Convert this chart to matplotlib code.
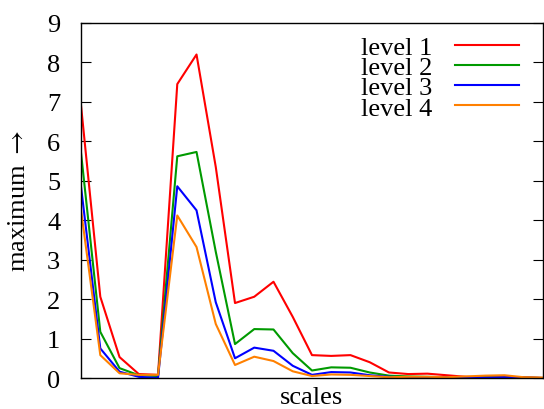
import matplotlib
matplotlib.use("Agg")
import matplotlib.pyplot as plt
import numpy as np

plt.rcParams['font.family'] = ['Liberation Serif', 'DejaVu Serif']
plt.rcParams['mathtext.fontset'] = 'stix'

# maximum value per scale index
scales = np.arange(25)
level1 = [6.9, 2.06, 0.53, 0.1, 0.08, 7.45, 8.2, 5.35, 1.9, 2.06, 2.44, 1.55, 0.58, 0.56, 0.58,
          0.4, 0.14, 0.1, 0.11, 0.07, 0.03, 0.02, 0.03, 0.02, 0.0]
level2 = [5.7, 1.17, 0.25, 0.07, 0.05, 5.62, 5.73, 3.2, 0.86, 1.24, 1.23, 0.63, 0.19, 0.27, 0.26,
          0.14, 0.06, 0.04, 0.03, 0.02, 0.01, 0.02, 0.01, 0.01, 0.0]
level3 = [4.84, 0.75, 0.16, 0.03, 0.0, 4.86, 4.25, 1.92, 0.5, 0.77, 0.69, 0.31, 0.08, 0.15, 0.14,
          0.07, 0.03, 0.02, 0.01, 0.02, 0.01, 0.01, 0.02, 0.01, 0.0]
level4 = [4.25, 0.58, 0.12, 0.08, 0.08, 4.12, 3.32, 1.37, 0.33, 0.54, 0.43, 0.17, 0.05, 0.09, 0.08,
          0.05, 0.02, 0.03, 0.03, 0.02, 0.04, 0.06, 0.07, 0.02, 0.01]

series = [("level 1", level1, "#ff0000"),
          ("level 2", level2, "#009a00"),
          ("level 3", level3, "#0000ff"),
          ("level 4", level4, "#ff8000")]

fs = 19

fig = plt.figure(figsize=(5.44, 4.10), dpi=100)
ax = fig.add_axes([0.149, 0.0756, 0.849, 0.866])

for name, vals, col in series:
    ax.plot(scales, vals, color=col, lw=1.5, label=name)

ax.set_xlim(0, 24)
ax.set_ylim(0, 9)
ax.set_yticks(range(10))
ax.set_xticks([])
ax.tick_params(axis='y', direction='in', length=7, right=True, labelsize=fs, pad=15)
for s in ax.spines.values():
    s.set_linewidth(1.0)

ax.set_xlabel("scales", fontsize=fs, labelpad=6)
ax.set_ylabel("maximum $\\rightarrow$", fontsize=fs, labelpad=12)

ax.legend(loc='upper right', frameon=False, markerfirst=False, fontsize=fs,
          handlelength=2.4, labelspacing=-0.12, handletextpad=0.87,
          borderaxespad=0.0, bbox_to_anchor=(0.97, 0.995))

fig.savefig("out.png", dpi=100)
